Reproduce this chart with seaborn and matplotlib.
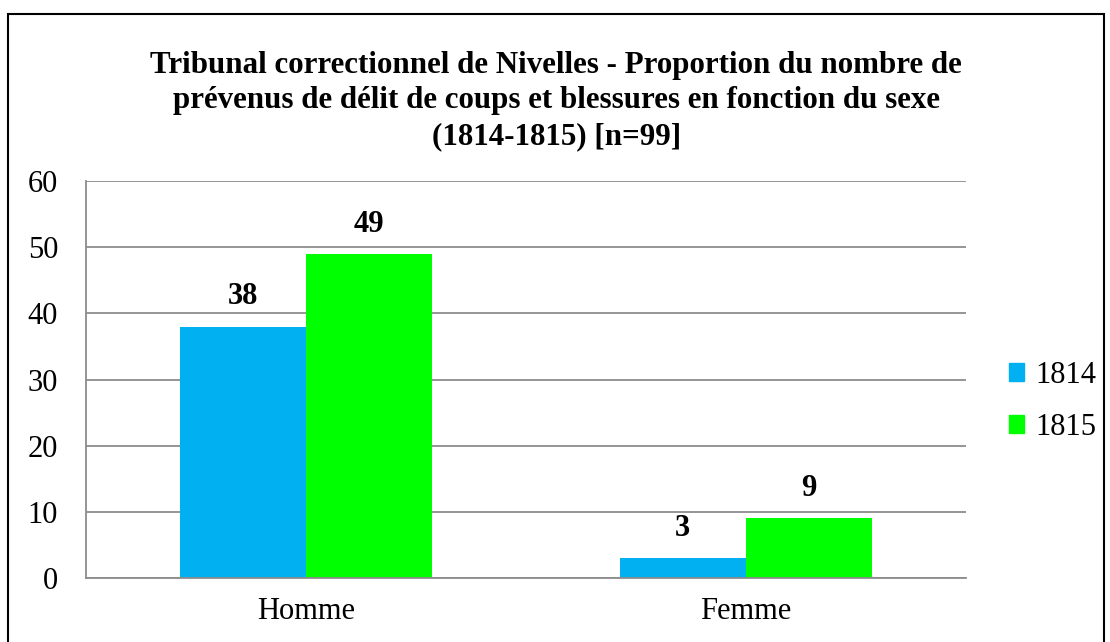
import seaborn as sns
import matplotlib.pyplot as plt
import matplotlib.patches as mpatches
import pandas as pd

# Values
sexes = ["Homme", "Femme"]
years = ["1814", "1815"]
counts_1814 = [38, 3]
counts_1815 = [49, 9]
colors = ["#00B0F0", "#00FF00"]

title = ("Tribunal correctionnel de Nivelles - Proportion du nombre de\n"
         "prévenus de délit de coups et blessures en fonction du sexe\n"
         "(1814-1815) [n=99]")

df = pd.DataFrame({
    "sexe": sexes * 2,
    "annee": [years[0]] * 2 + [years[1]] * 2,
    "n": counts_1814 + counts_1815,
})

sns.set_style("white")
plt.rcParams["font.family"] = ["Liberation Serif", "DejaVu Serif"]
plt.rcParams["text.color"] = "black"
plt.rcParams["xtick.color"] = "black"
plt.rcParams["ytick.color"] = "black"

fig = plt.figure(figsize=(11.1, 6.42), dpi=100)
ax = fig.add_axes([0.0775, 0.0997, 0.7925, 0.6183])

sns.barplot(data=df, x="sexe", y="n", hue="annee", palette=colors,
            width=0.573, gap=0, saturation=1, edgecolor="none",
            linewidth=0, ax=ax)

ax.set_ylim(0, 60)
ax.set_xlim(-0.5, 1.5)
ax.set_yticks(range(0, 61, 10))
ax.yaxis.grid(True, color="#8c8c8c", linewidth=1.3)
ax.set_axisbelow(True)
ax.set_xlabel("")
ax.set_ylabel("")
for side in ["top", "right"]:
    ax.spines[side].set_visible(False)
for side in ["left", "bottom"]:
    ax.spines[side].set_color("#8c8c8c")
    ax.spines[side].set_linewidth(1.3)
ax.tick_params(axis="y", length=0, pad=20, labelsize=22, labelcolor="black")
ax.tick_params(axis="x", length=0, pad=14, labelsize=22, labelcolor="black")

for cont in ax.containers:
    ax.bar_label(cont, fmt="%d", padding=11, fontsize=22, fontweight="bold",
                 color="black")

handles = [mpatches.Patch(color=c, label=y) for c, y in zip(colors, years)]
ax.get_legend().remove()
fig.legend(handles=handles, loc="center left",
           bbox_to_anchor=(0.909, 0.375), frameon=False, fontsize=22,
           handlelength=0.5, handleheight=0.5, handletextpad=0.35,
           labelspacing=0.75, borderpad=0, borderaxespad=0,
           labelcolor="black")

fig.text(0.501, 0.843, title, ha="center", va="center", fontsize=22.3,
         fontweight="bold", linespacing=1.3, color="black")

# outer chart frame
fig.patches.append(mpatches.Rectangle((8 / 1110, -0.05), 1096 / 1110,
                                      1.05 - 14 / 642, transform=fig.transFigure,
                                      fill=False, edgecolor="black", linewidth=1.5))

fig.savefig("out.png", dpi=100)
plt.close(fig)
